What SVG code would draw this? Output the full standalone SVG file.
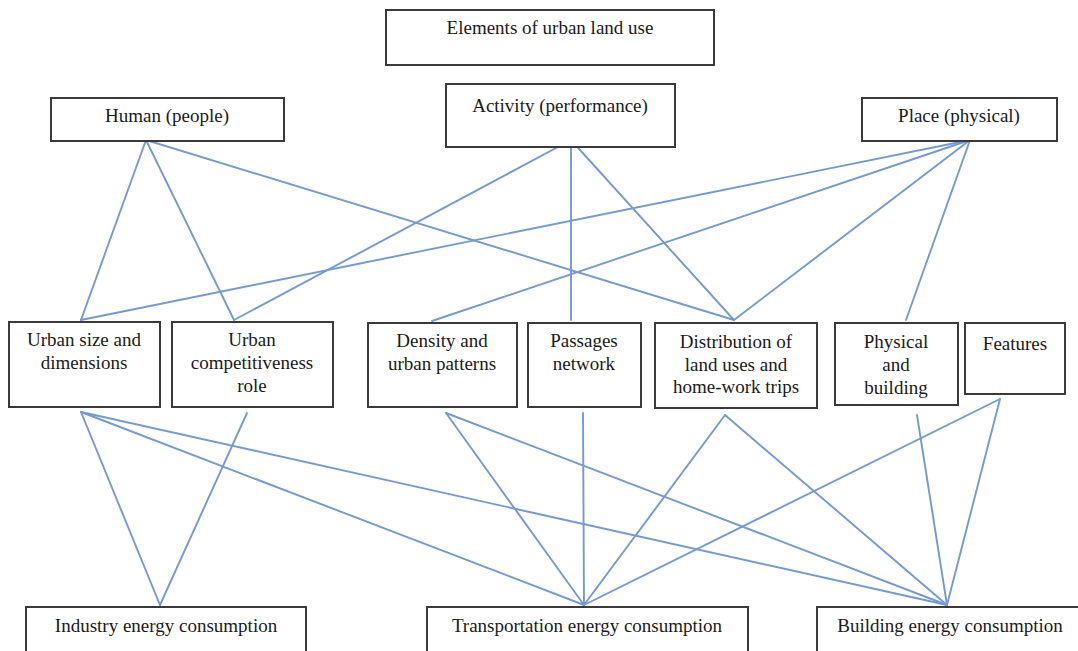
<svg xmlns="http://www.w3.org/2000/svg" width="1078" height="651" viewBox="0 0 1078 651">
<style>
.box{fill:#fff;stroke:#3a3a3a;stroke-width:2}
text{font-family:"Liberation Serif","Times New Roman",serif;font-size:19px;fill:#1a1a1a;text-anchor:middle}
.c line{stroke:#7499d3;stroke-width:1.9;stroke-linecap:round}
</style>
<rect width="1078" height="651" fill="#fff"/>
<g class="c" id="connectors">
<line x1="146" y1="140" x2="81" y2="320"/>
<line x1="146" y1="140" x2="234" y2="320"/>
<line x1="146" y1="140" x2="734" y2="320"/>
<line x1="571" y1="140" x2="234" y2="320"/>
<line x1="571" y1="140" x2="571" y2="320"/>
<line x1="571" y1="140" x2="734" y2="320"/>
<line x1="970" y1="140" x2="81" y2="320"/>
<line x1="970" y1="140" x2="432" y2="321"/>
<line x1="970" y1="140" x2="734" y2="320"/>
<line x1="970" y1="140" x2="906" y2="320"/>
<line x1="81" y1="412" x2="160" y2="605"/>
<line x1="81" y1="412" x2="584" y2="605"/>
<line x1="81" y1="412" x2="947" y2="605"/>
<line x1="247" y1="413" x2="160" y2="605"/>
<line x1="446" y1="413" x2="584" y2="605"/>
<line x1="446" y1="413" x2="947" y2="605"/>
<line x1="583" y1="413" x2="584" y2="605"/>
<line x1="725" y1="415" x2="584" y2="605"/>
<line x1="725" y1="415" x2="947" y2="605"/>
<line x1="917" y1="415" x2="947" y2="605"/>
<line x1="1000" y1="399" x2="584" y2="605"/>
<line x1="1000" y1="399" x2="947" y2="605"/>
</g>
<g id="title"><rect class="box" x="386" y="10" width="328" height="55"/><text x="550" y="34">Elements of urban land use</text></g>
<g id="human"><rect class="box" x="51" y="98" width="233" height="43"/><text x="167" y="122">Human (people)</text></g>
<g id="activity"><rect class="box" x="446" y="84" width="229" height="63"/><text x="560" y="112">Activity (performance)</text></g>
<g id="place"><rect class="box" x="862" y="98" width="195" height="43"/><text x="959" y="122">Place (physical)</text></g>
<g id="urban-size"><rect class="box" x="9" y="322" width="151" height="85"/><text x="84" y="346">Urban size and</text><text x="84" y="369">dimensions</text></g>
<g id="urban-comp"><rect class="box" x="172" y="322" width="161" height="85"/><text x="252" y="346">Urban</text><text x="252" y="369">competitiveness</text><text x="252" y="392">role</text></g>
<g id="density"><rect class="box" x="368" y="323" width="149" height="84"/><text x="442" y="347">Density and</text><text x="442" y="370">urban patterns</text></g>
<g id="passages"><rect class="box" x="528" y="323" width="113" height="84"/><text x="584" y="347">Passages</text><text x="584" y="370">network</text></g>
<g id="distribution"><rect class="box" x="655" y="323" width="162" height="85"/><text x="736" y="348">Distribution of</text><text x="736" y="371">land uses and</text><text x="736" y="393">home-work trips</text></g>
<g id="physical"><rect class="box" x="835" y="323" width="123" height="82"/><text x="896" y="348">Physical</text><text x="896" y="371">and</text><text x="896" y="394">building</text></g>
<g id="features"><rect class="box" x="965" y="323" width="100" height="71"/><text x="1015" y="350">Features</text></g>
<g id="industry"><rect class="box" x="26" y="607" width="280" height="60"/><text x="166" y="632">Industry energy consumption</text></g>
<g id="transport"><rect class="box" x="427" y="607" width="321" height="60"/><text x="587" y="632">Transportation energy consumption</text></g>
<g id="building"><rect class="box" x="817" y="607" width="270" height="60"/><text x="950" y="632">Building energy consumption</text></g>
</svg>
